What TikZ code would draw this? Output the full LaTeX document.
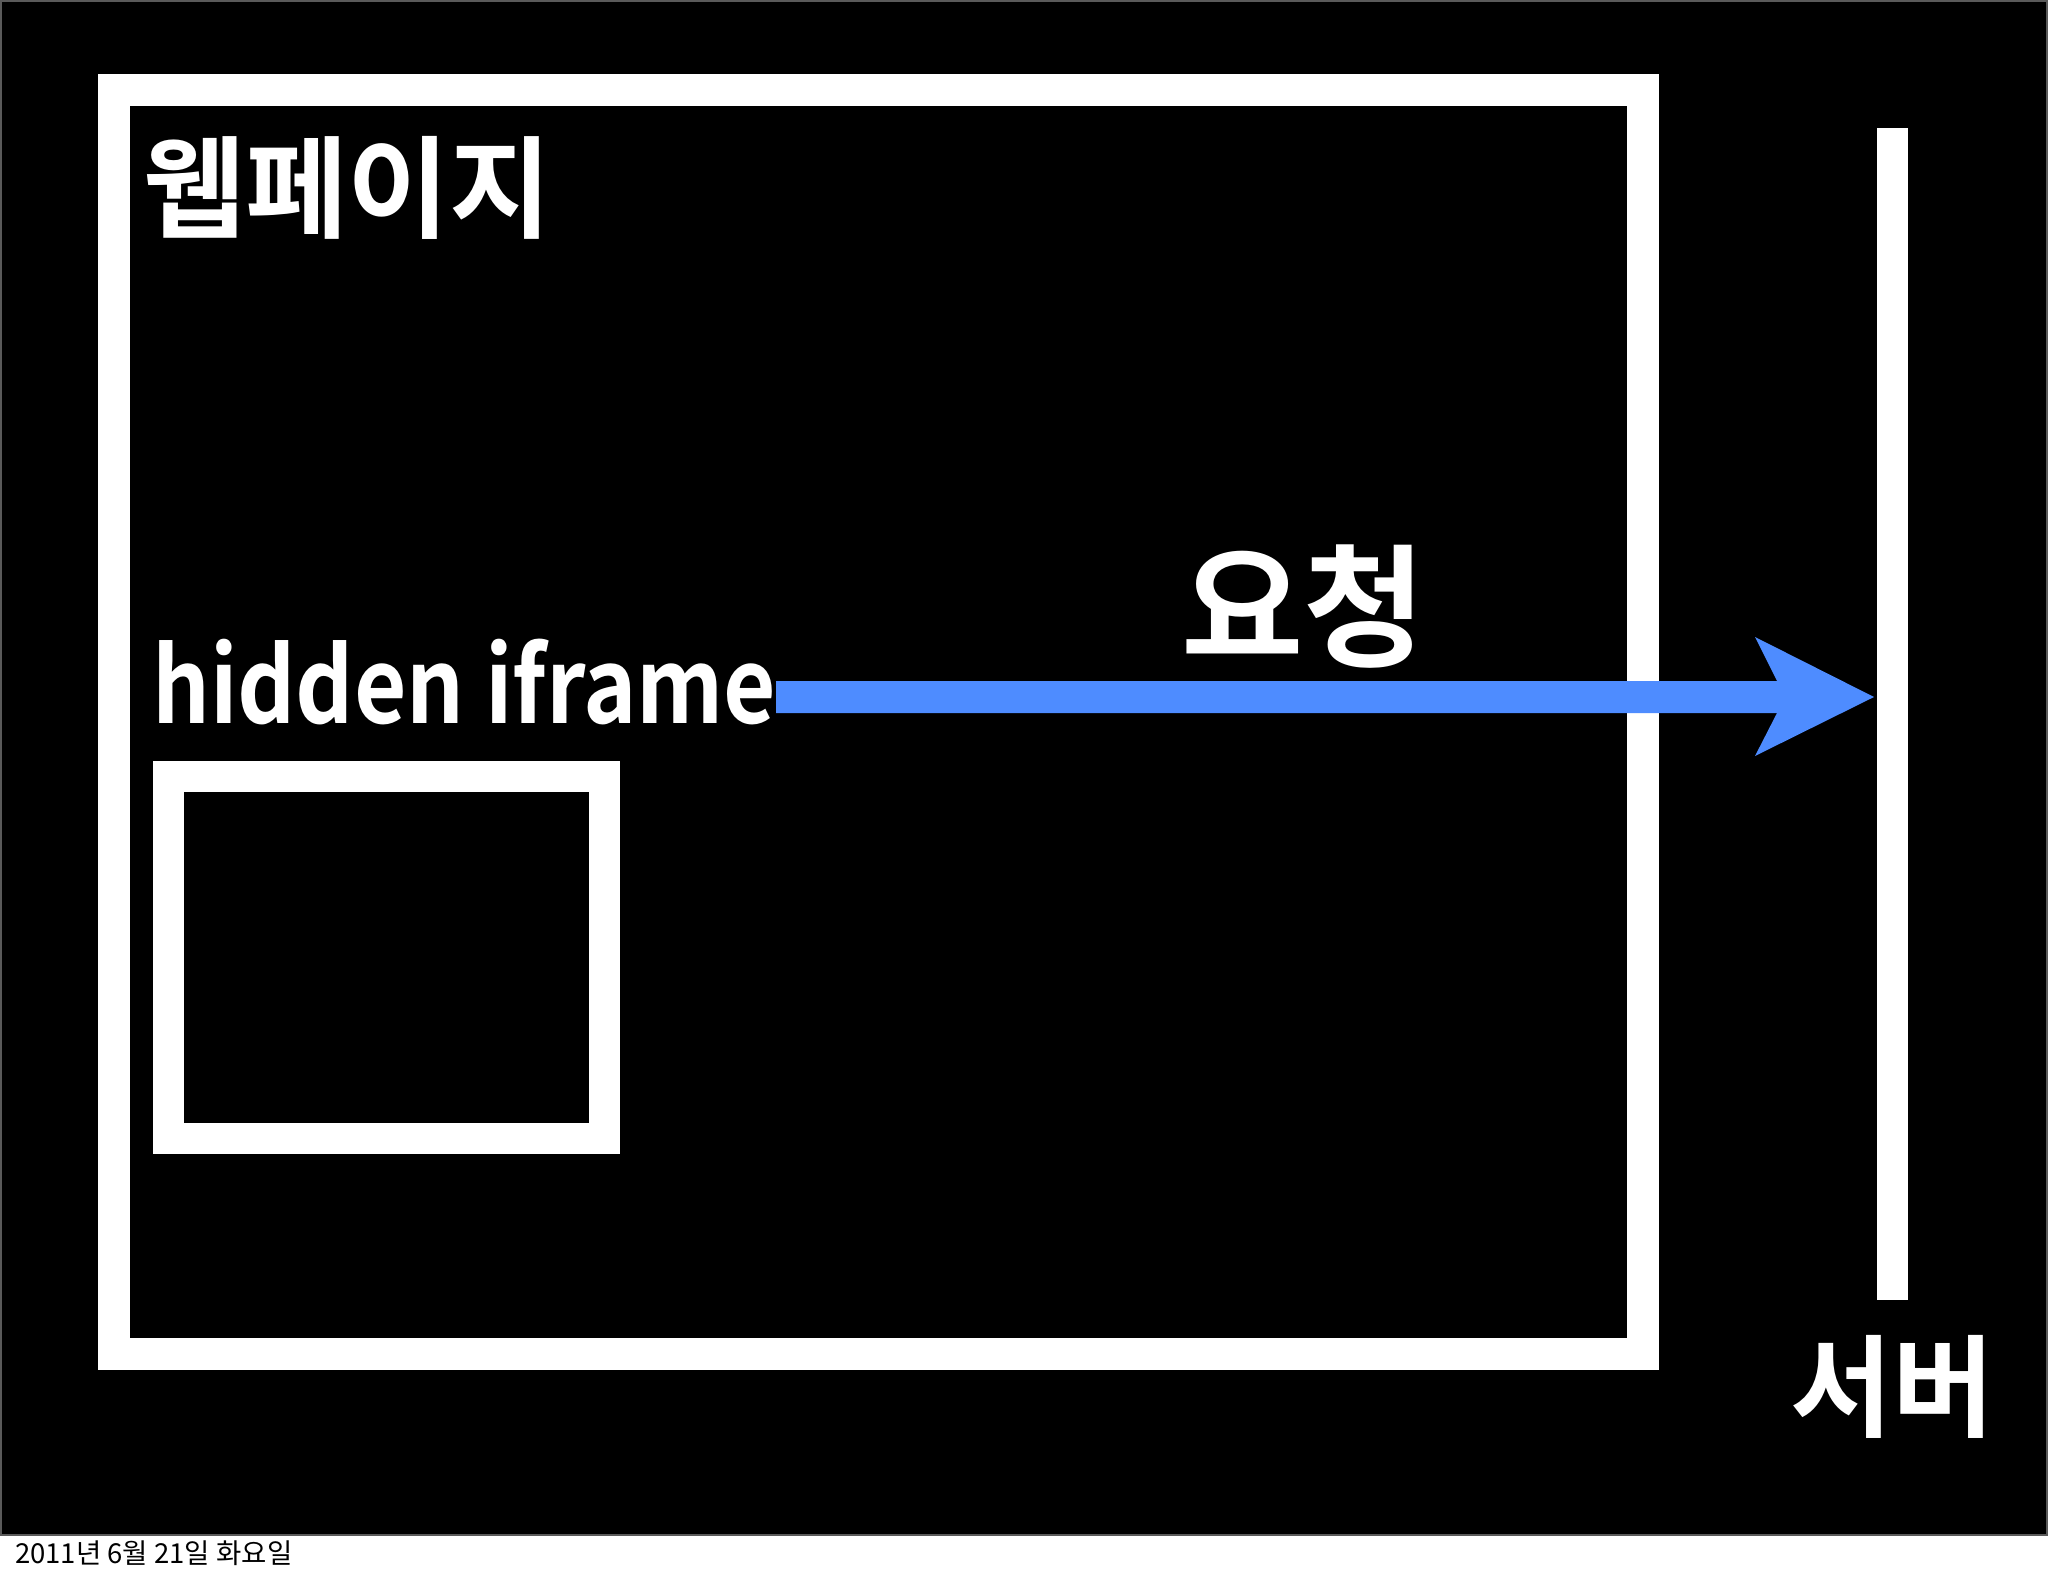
\documentclass[tikz,border=0pt]{standalone}
\usepackage{fontspec}
\newfontfamily\krbold{Noto Sans CJK KR Bold}
\newfontfamily\krnarrow[FakeStretch=0.87]{Noto Sans CJK KR Bold}
\newfontfamily\kr{Noto Sans CJK KR}
\definecolor{arrowblue}{RGB}{78,140,255}
\definecolor{edgegray}{RGB}{90,90,90}
\begin{document}
\begin{tikzpicture}[x=1bp,y=-1bp,
  frame/.style={draw=white,line width=32bp},
  bigtext/.style={text=white,inner sep=0pt,anchor=base west},
]
\useasboundingbox (0,0) rectangle (2048,1576);
\fill[white] (0,0) rectangle (2048,1576);
\filldraw[fill=black,draw=edgegray,line width=2bp] (1,1) rectangle (2047,1535);
% web page frame
\draw[frame] (113.5,90) rectangle (1643,1354);
% hidden iframe box
\draw[frame,line width=31bp] (168.5,776) rectangle (604,1138.5);
% server bar
\fill[white] (1877,128) rectangle (1908,1300);
\node[bigtext,font=\krbold\fontsize{111bp}{111bp}\selectfont] (web) at (143,229) {웹페이지};
\node[bigtext,font=\krnarrow\fontsize{104bp}{104bp}\selectfont] (iframe) at (152,723) {hidden iframe};
\node[bigtext,font=\krbold\fontsize{133bp}{133bp}\selectfont] (req) at (1181,656.5) {요청};
\node[bigtext,font=\krbold\fontsize{111bp}{111bp}\selectfont] (server) at (1790,1428) {서버};
\node[anchor=base west,inner sep=0pt,font=\kr\fontsize{27.5bp}{27.5bp}\selectfont] (date) at (15,1563) {2011년 6월 21일 화요일};
% arrow
\coordinate (a0) at (776,697);
\coordinate (tip) at (1874,697);
\fill[arrowblue] (776,681) -- (1777,681) -- (1755,637) -- (tip) -- (1755,756) -- (1777,713) -- (776,713) -- cycle;
\end{tikzpicture}
\end{document}
